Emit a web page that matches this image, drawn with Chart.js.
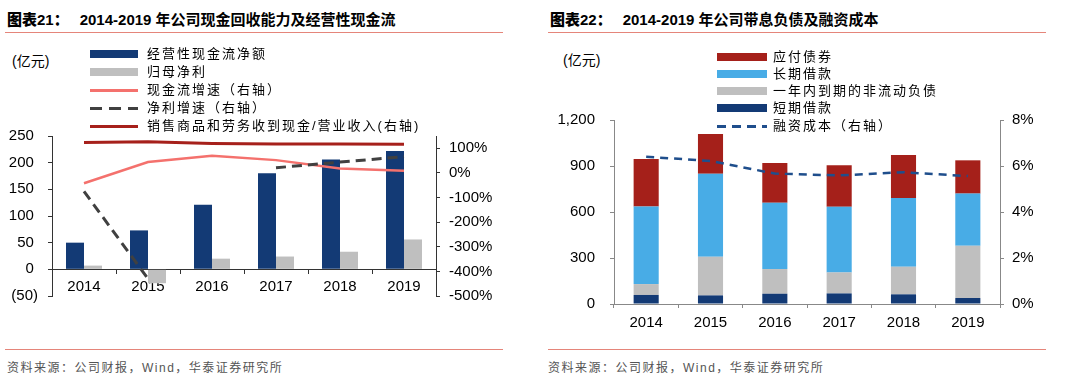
<!DOCTYPE html>
<html>
<head>
<meta charset="utf-8">
<script src="https://cdn.jsdelivr.net/npm/chart.js@4.4.0/dist/chart.umd.min.js"></script>
<style>
body{margin:0;width:1080px;height:383px;background:#fff;position:relative;overflow:hidden;
  font-family:"Liberation Sans","Noto Sans CJK SC",sans-serif;color:#000;}
.abs{position:absolute;}
.title{font-size:15px;font-weight:bold;line-height:18px;white-space:nowrap;}
.title b{margin-right:11px;}
.rule{height:1px;background:#e5857a;}
.unit{font-size:14px;line-height:16px;}
.src{font-size:12px;letter-spacing:1.5px;color:#555;line-height:14px;white-space:nowrap;}
.leg{font-size:13px;letter-spacing:2px;line-height:16px;white-space:nowrap;}
canvas{position:absolute;}
</style>
</head>
<body>
<div class="abs title" style="left:7px;top:11px;"><b>图表21：</b>2014-2019 年公司现金回收能力及经营性现金流</div>
<div class="abs rule" style="left:5px;top:32px;width:498px;"></div>
<div class="abs unit" style="left:12px;top:53px;">(亿元)</div>

<div class="abs title" style="left:550px;top:11px;"><b>图表22：</b>2014-2019 年公司带息负债及融资成本</div>
<div class="abs rule" style="left:548px;top:32px;width:498px;"></div>
<div class="abs unit" style="left:563px;top:52px;">(亿元)</div>

<canvas id="cashChart" width="510" height="198" style="left:0px;top:117px;"></canvas>
<canvas id="debtChart" width="520" height="238" style="left:540px;top:96px;"></canvas>

<div class="abs rule" style="left:5px;top:349px;width:498px;"></div>
<div class="abs src" style="left:7px;top:361px;">资料来源：公司财报，Wind，华泰证券研究所</div>
<div class="abs rule" style="left:548px;top:349px;width:498px;"></div>
<div class="abs src" style="left:548px;top:361px;">资料来源：公司财报，Wind，华泰证券研究所</div>

<script>
/*
*Data
*/
const years = ['2014', '2015', '2016', '2017', '2018', '2019'];

// left chart (亿元 and %)
const opCashFlow = [50, 73, 121, 180, 206, 222];
const netProfit = [7, -26, 20, 24, 33, 56];
const cashFlowGrowth = [-42, 44, 70, 52, 18, 9];
const profitGrowth = [-75, -430, null, 21, 44, 66];
const cashToRevenue = [124, 127, 120, 117, 118, 116];

// right chart (亿元 and %)
const shortLoan = [59, 56, 67, 69, 63, 39];
const currentDue = [71, 252, 161, 137, 180, 341];
const longLoan = [506, 541, 432, 428, 449, 340];
const bondsPayable = [310, 260, 260, 271, 280, 217];
const financingCost = [6.40, 6.22, 5.67, 5.59, 5.73, 5.56];

// axis ranges / steps
const cashAxis = [-50, 250, 50];
const growthAxis = [-500, 150, 100];
const debtAxis = [0, 1200, 300];
const costAxis = [0, 8, 2];

const colors = {
    NAVY: '#133a75',
    GRAY: '#bfbfbf',
    SALMON: '#f4716d',
    DARKRED: '#a6201b',
    DASHGRAY: '#404040',
    RED: '#a5201a',
    SKY: '#48ace6',
    DASHBLUE: '#1f4e8c'
};

Chart.defaults.font.family = '"Liberation Sans", Arial, sans-serif';
Chart.defaults.font.size = 15;
Chart.defaults.color = '#000';

/*
*Small legend drawn as html, one item per row
*/
function addLegend(items, x0, x1, tx, rows){
    items.forEach(function(item, i){
        const y = rows[i];
        const mark = document.createElement('div');
        mark.className = 'abs';
        const h = item.kind === 'bar' ? 8 : 3;
        mark.style.left = x0 + 'px';
        mark.style.width = (x1 - x0) + 'px';
        mark.style.top = (y - h / 2) + 'px';
        mark.style.height = h + 'px';
        if(item.kind === 'dash'){
            mark.style.background = 'repeating-linear-gradient(90deg,' + item.color + ' 0 ' + item.dash[0] + 'px, transparent ' + item.dash[0] + 'px ' + (item.dash[0] + item.dash[1]) + 'px)';
        }else{
            mark.style.background = item.color;
        }
        document.body.appendChild(mark);
        const txt = document.createElement('div');
        txt.className = 'abs leg';
        txt.style.left = tx + 'px';
        txt.style.top = (y - 8) + 'px';
        txt.textContent = item.label;
        document.body.appendChild(txt);
    });
}

function axisStyle(color){
    return {
        grid: {drawOnChartArea: false, drawTicks: true, tickLength: 4, color: color},
        border: {color: color}
    };
}

/*
*Left chart: cash flow bars and growth lines
*/
const c1 = axisStyle('#333');
new Chart(document.getElementById('cashChart'), {
    data: {
        labels: years,
        datasets: [
            {type: 'line', label: '销售商品和劳务收到现金/营业收入(右轴)', data: cashToRevenue, yAxisID: 'y1',
             borderColor: colors.DARKRED, borderWidth: 3, pointRadius: 0, order: 0},
            {type: 'line', label: '净利增速（右轴）', data: profitGrowth, yAxisID: 'y1',
             borderColor: colors.DASHGRAY, borderWidth: 3, borderDash: [10, 6], pointRadius: 0, spanGaps: false, order: 0},
            {type: 'line', label: '现金流增速（右轴）', data: cashFlowGrowth, yAxisID: 'y1',
             borderColor: colors.SALMON, borderWidth: 2.5, pointRadius: 0, order: 0},
            {type: 'bar', label: '经营性现金流净额', data: opCashFlow, yAxisID: 'y',
             backgroundColor: colors.NAVY, categoryPercentage: 0.5625, barPercentage: 1, order: 1},
            {type: 'bar', label: '归母净利', data: netProfit, yAxisID: 'y',
             backgroundColor: colors.GRAY, categoryPercentage: 0.5625, barPercentage: 1, order: 1}
        ]
    },
    options: {
        responsive: false, animation: false, devicePixelRatio: 1,
        layout: {padding: 0},
        plugins: {legend: {display: false}, tooltip: {enabled: false}},
        scales: {
            x: {position: {y: 0}, grid: Object.assign({}, c1.grid, {offset: true}), border: c1.border,
                ticks: {padding: 5, maxRotation: 0}},
            y: {position: 'left', min: cashAxis[0], max: cashAxis[1], grid: c1.grid, border: c1.border,
                ticks: {stepSize: cashAxis[2], padding: 10, autoSkip: false,
                        callback: v => v < 0 ? '(' + (-v) + ')' : v + ' '},
                afterFit: s => { s.width = 52; }},
            y1: {position: 'right', min: growthAxis[0], max: growthAxis[1], grid: c1.grid, border: c1.border,
                 ticks: {stepSize: growthAxis[2], padding: 9, autoSkip: false, includeBounds: false,
                         callback: v => v + '%'},
                 afterFit: s => { s.width = 74; }}
        }
    }
});

addLegend([
    {label: '经营性现金流净额', kind: 'bar', color: colors.NAVY},
    {label: '归母净利', kind: 'bar', color: colors.GRAY},
    {label: '现金流增速（右轴）', kind: 'line', color: colors.SALMON},
    {label: '净利增速（右轴）', kind: 'dash', color: colors.DASHGRAY, dash: [12, 7]},
    {label: '销售商品和劳务收到现金/营业收入(右轴)', kind: 'line', color: colors.DARKRED}
], 90, 138, 147, [54, 72, 90, 108, 126]);

/*
*Right chart: stacked interest-bearing debt and financing cost
*/
const c2 = axisStyle('#888');
new Chart(document.getElementById('debtChart'), {
    data: {
        labels: years,
        datasets: [
            {type: 'line', label: '融资成本（右轴）', data: financingCost, yAxisID: 'y1',
             borderColor: colors.DASHBLUE, borderWidth: 2.5, borderDash: [8, 6], pointRadius: 0, order: 0},
            {type: 'bar', label: '短期借款', data: shortLoan, backgroundColor: colors.NAVY, stack: 'debt', order: 1},
            {type: 'bar', label: '一年内到期的非流动负债', data: currentDue, backgroundColor: colors.GRAY, stack: 'debt', order: 1},
            {type: 'bar', label: '长期借款', data: longLoan, backgroundColor: colors.SKY, stack: 'debt', order: 1},
            {type: 'bar', label: '应付债券', data: bondsPayable, backgroundColor: colors.RED, stack: 'debt', order: 1}
        ]
    },
    options: {
        responsive: false, animation: false, devicePixelRatio: 1,
        layout: {padding: 0},
        datasets: {bar: {categoryPercentage: 0.39, barPercentage: 1}},
        plugins: {legend: {display: false}, tooltip: {enabled: false}},
        scales: {
            x: {stacked: true, grid: Object.assign({}, c2.grid, {offset: true}), border: c2.border,
                ticks: {padding: 6, maxRotation: 0},
                afterFit: s => { s.height = 30; }},
            y: {position: 'left', stacked: true, min: debtAxis[0], max: debtAxis[1], grid: c2.grid, border: c2.border,
                ticks: {stepSize: debtAxis[2], padding: 15, autoSkip: false, callback: v => v.toLocaleString('en-US')},
                afterFit: s => { s.width = 74; }},
            y1: {position: 'right', min: costAxis[0], max: costAxis[1], grid: c2.grid, border: c2.border,
                 ticks: {stepSize: costAxis[2], padding: 8, autoSkip: false, callback: v => v + '%'},
                 afterFit: s => { s.width = 60; }}
        }
    }
});

addLegend([
    {label: '应付债券', kind: 'bar', color: colors.RED},
    {label: '长期借款', kind: 'bar', color: colors.SKY},
    {label: '一年内到期的非流动负债', kind: 'bar', color: colors.GRAY},
    {label: '短期借款', kind: 'bar', color: colors.NAVY},
    {label: '融资成本（右轴）', kind: 'dash', color: colors.DASHBLUE, dash: [9, 6]}
], 717, 767, 773, [57, 74, 91, 108, 126]);
</script>
</body>
</html>
